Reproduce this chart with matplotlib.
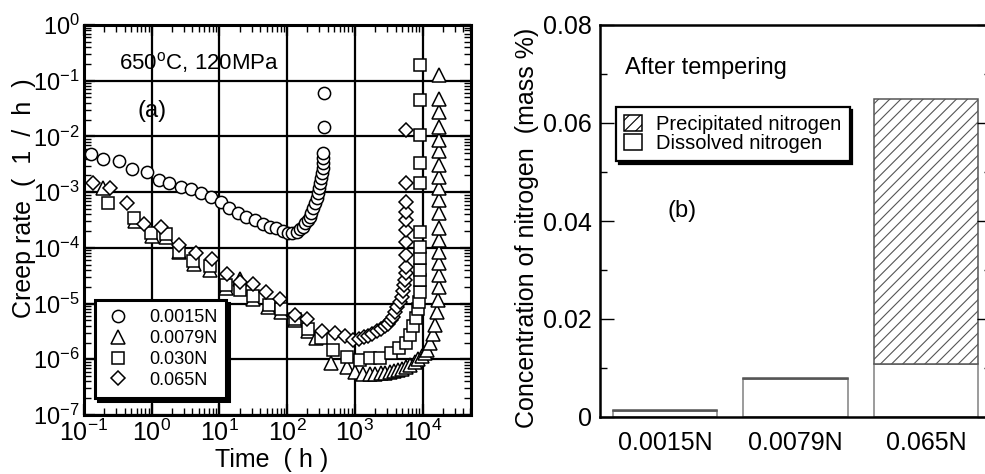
import numpy as np
import matplotlib
matplotlib.use("Agg")
import matplotlib.pyplot as plt
from matplotlib.ticker import LogLocator, MultipleLocator, NullFormatter

plt.rcParams['font.family'] = ['Liberation Sans', 'DejaVu Sans']
plt.rcParams['mathtext.fontset'] = 'custom'
plt.rcParams['mathtext.rm'] = 'Liberation Sans'
plt.rcParams['mathtext.it'] = 'Liberation Sans:italic'
plt.rcParams['mathtext.bf'] = 'Liberation Sans:bold'
plt.rcParams['hatch.linewidth'] = 0.8

# ---- (a) creep rate curves as log10 values ----
# 0.0015N (circles)
log_t_0015 = [-0.896, -0.714, -0.488, -0.29, -0.074, 0.114, 0.26, 0.435, 0.58, 0.73,
              0.879, 1.027, 1.149, 1.272, 1.397, 1.519, 1.642, 1.741, 1.84, 1.938, 2.01,
              2.07, 2.14, 2.19, 2.23, 2.27, 2.31, 2.34, 2.36, 2.385, 2.41, 2.435, 2.46,
              2.475, 2.49, 2.505, 2.52, 2.525, 2.53, 2.53, 2.53, 2.54, 2.54]
log_r_0015 = [-2.32, -2.41, -2.45, -2.585, -2.63, -2.78, -2.83, -2.90, -2.95, -3.02,
              -3.08, -3.17, -3.29, -3.38, -3.44, -3.50, -3.57, -3.62, -3.65, -3.69, -3.74,
              -3.73, -3.71, -3.67, -3.62, -3.56, -3.50, -3.44, -3.38, -3.29, -3.2, -3.11, -3.02,
              -2.93, -2.84, -2.75, -2.66, -2.57, -2.48, -2.39, -2.30, -1.83, -1.215]

# 0.0079N (triangles)
log_t_0079 = [-0.72, -0.25, 0.0, 0.21, 0.40, 0.62, 0.86, 1.10, 1.30, 1.50, 1.72, 1.91,
              2.12, 2.31, 2.43, 2.65, 2.88, 3.00, 3.12, 3.22, 3.30, 3.38, 3.45, 3.52,
              3.58, 3.64, 3.70, 3.76, 3.82, 3.89, 3.94, 3.985, 4.03, 4.06, 4.11, 4.16,
              4.18, 4.21, 4.23, 4.24, 4.245, 4.245, 4.245, 4.245, 4.245, 4.245, 4.245,
              4.245, 4.245, 4.245, 4.245, 4.245, 4.245, 4.245, 4.245, 4.245]
log_r_0079 = [-2.93, -3.52, -3.78, -3.80, -4.08, -4.29, -4.40, -4.72, -4.56, -4.92, -5.07, -5.15,
              -5.30, -5.50, -5.62, -6.07, -6.13, -6.22, -6.27, -6.27, -6.26, -6.25, -6.24, -6.23,
              -6.21, -6.19, -6.17, -6.13, -6.10, -6.05, -6.00, -5.94, -5.88, -5.83, -5.71, -5.54,
              -5.39, -5.15, -4.94, -4.70, -4.49, -4.28, -4.07, -3.86, -3.65, -3.38, -3.14,
              -2.93, -2.72, -2.51, -2.27, -2.06, -1.83, -1.56, -1.33, -0.90]

# 0.030N (squares)
log_t_030 = [-0.65, -0.256, -0.01, 0.21, 0.40, 0.61, 0.86, 1.10, 1.31, 1.49, 1.73, 1.91,
             2.11, 2.31, 2.50, 2.68, 2.88, 3.07, 3.22, 3.37, 3.54, 3.65, 3.76, 3.81, 3.86,
             3.90, 3.93, 3.95, 3.96, 3.97, 3.97, 3.97, 3.97, 3.97, 3.97, 3.97, 3.97, 3.97, 3.97]
log_r_030 = [-3.19, -3.47, -3.74, -3.75, -4.08, -4.24, -4.33, -4.67, -4.75, -4.87, -5.02, -5.10,
             -5.27, -5.45, -5.62, -5.83, -5.95, -6.01, -5.98, -5.98, -5.89, -5.80, -5.71, -5.56, -5.40,
             -5.25, -5.10, -4.97, -4.79, -4.58, -4.40, -4.19, -3.98, -3.71, -2.84, -2.48, -1.97, -1.35, -0.72]

# 0.065N (diamonds)
log_t_065 = [-0.87, -0.615, -0.37, -0.108, 0.14, 0.40, 0.65, 0.89, 1.11, 1.30, 1.49, 1.69,
             1.89, 2.11, 2.29, 2.52, 2.70, 2.85, 2.98, 3.06, 3.13, 3.20, 3.26, 3.33, 3.39,
             3.44, 3.49, 3.53, 3.57, 3.60, 3.63, 3.66, 3.69, 3.71, 3.73, 3.74, 3.75, 3.76,
             3.76, 3.76, 3.76, 3.76, 3.76, 3.76, 3.76, 3.76]
log_r_065 = [-2.84, -2.93, -3.19, -3.57, -3.62, -3.95, -4.10, -4.20, -4.47, -4.62, -4.65, -4.79,
             -4.92, -5.21, -5.27, -5.49, -5.52, -5.58, -5.66, -5.63, -5.60, -5.58, -5.55, -5.50, -5.46,
             -5.41, -5.36, -5.30, -5.24, -5.16, -5.07, -4.98, -4.88, -4.78, -4.67, -4.58, -4.46, -4.34,
             -4.13, -3.89, -3.68, -3.50, -3.35, -3.17, -2.84, -1.885]

# ---- (b) nitrogen after tempering (mass %) ----
steels = ['0.0015N', '0.0079N', '0.065N']
dissolved_n = [0.0012, 0.0077, 0.0108]
precipitated_n = [0.0002, 0.0003, 0.0541]

fig = plt.figure(figsize=(9.85, 4.74), dpi=100)

# ---------------- panel (a) ----------------
ax1 = fig.add_axes([84/985, 59/474, 387/985, 390/474])
ax1.set_xscale('log')
ax1.set_yscale('log')
ax1.set_axisbelow(True)
ax1.grid(True, which='major', color='black', lw=1.6)

series = [
    (log_t_0079, log_r_0079, '^', 10, '0.0079N'),
    (log_t_030, log_r_030, 's', 8.5, '0.030N'),
    (log_t_065, log_r_065, 'D', 7.5, '0.065N'),
    (log_t_0015, log_r_0015, 'o', 8.8, '0.0015N'),
]
handles = {}
for lt, lr, mk, ms, lab in series:
    h, = ax1.plot(10 ** np.array(lt), 10 ** np.array(lr), ls='none', marker=mk, ms=ms,
                  mfc='white', mec='black', mew=1.1, label=lab)
    handles[lab] = h

ax1.set_xlim(0.1, 5.2e4)
ax1.set_ylim(1e-7, 1)
ax1.xaxis.set_major_locator(LogLocator(base=10, numticks=10))
ax1.yaxis.set_major_locator(LogLocator(base=10, numticks=10))
ax1.xaxis.set_minor_locator(LogLocator(base=10, subs=np.arange(2, 10), numticks=20))
ax1.yaxis.set_minor_locator(LogLocator(base=10, subs=np.arange(2, 10), numticks=20))
ax1.xaxis.set_minor_formatter(NullFormatter())
ax1.yaxis.set_minor_formatter(NullFormatter())
ax1.tick_params(which='both', direction='in', top=True, right=True)
ax1.tick_params(axis='x', labelsize=18)
ax1.tick_params(axis='y', labelsize=17)
ax1.tick_params(which='major', length=8, width=1.6, pad=3)
ax1.tick_params(which='minor', length=5, width=1)
for s in ax1.spines.values():
    s.set_linewidth(2.2)

ax1.set_xlabel('Time  ( h )', fontsize=18)
ax1.xaxis.set_label_coords(0.486, -0.085)
ax1.set_ylabel('Creep rate  (  1  /  h  )', fontsize=18)
ax1.yaxis.set_label_coords(-0.125, 0.556)

ax1.text(0.09, 0.905, '650$^{\\mathrm{o}}$C, 120MPa', transform=ax1.transAxes,
         fontsize=16, va='center', ha='left')
ax1.text(0.175, 0.78, '(a)', transform=ax1.transAxes, fontsize=17, va='center', ha='center')

order = ['0.0015N', '0.0079N', '0.030N', '0.065N']
leg1 = ax1.legend([handles[k] for k in order], order, loc='lower left',
                  bbox_to_anchor=(0.028, 0.044), borderaxespad=0, fontsize=13,
                  frameon=True, fancybox=False, edgecolor='black', framealpha=1,
                  handlelength=1.6, handletextpad=0.9, labelspacing=0.22, borderpad=0.5,
                  shadow={'color': 'black', 'alpha': 1})
leg1.get_frame().set_linewidth(2.2)

# ---------------- panel (b) ----------------
ax2 = fig.add_axes([600/985, 57/474, 391/985, 392/474])
x = np.arange(len(steels))
b1 = ax2.bar(x, dissolved_n, width=0.8, color='white', edgecolor='#808080', lw=1.1,
             label='Dissolved nitrogen')
b2 = ax2.bar(x, precipitated_n, width=0.8, bottom=dissolved_n, color='white',
             edgecolor='#555555', hatch='///', lw=1.1, label='Precipitated nitrogen')
ax2.set_xlim(-0.5, 2.5)
ax2.set_ylim(0, 0.08)
ax2.set_xticks(x)
ax2.set_xticklabels(steels)
ax2.yaxis.set_major_locator(MultipleLocator(0.02))
ax2.yaxis.set_minor_locator(MultipleLocator(0.01))
ax2.yaxis.set_major_formatter(plt.FuncFormatter(lambda v, p: '0' if abs(v) < 1e-9 else f'{v:.2f}'))
ax2.tick_params(axis='y', which='both', direction='in', left=True, right=True, labelsize=18, pad=6)
ax2.tick_params(axis='y', which='major', length=10, width=1)
ax2.tick_params(axis='y', which='minor', length=5, width=1)
ax2.tick_params(axis='x', length=0, labelsize=18, pad=10)
for s in ax2.spines.values():
    s.set_linewidth(1.8)

ax2.set_ylabel('Concentration of nitrogen  (mass %)', fontsize=18)
ax2.yaxis.set_label_coords(-0.155, 0.482)

ax2.text(0.065, 0.89, 'After tempering', transform=ax2.transAxes, fontsize=17,
         va='center', ha='left')
ax2.text(0.21, 0.525, '(b)', transform=ax2.transAxes, fontsize=17, va='center', ha='center')

leg2 = ax2.legend([b2, b1], ['Precipitated nitrogen', 'Dissolved nitrogen'], loc='upper left',
                  bbox_to_anchor=(0.041, 0.791), borderaxespad=0, fontsize=14.5,
                  frameon=True, fancybox=False, edgecolor='black', framealpha=1,
                  handlelength=0.9, handleheight=0.85, handletextpad=0.7, labelspacing=0.02,
                  borderpad=0.4, shadow={'color': 'black', 'alpha': 1})
leg2.get_frame().set_linewidth(1.6)
for p in leg2.get_patches():
    p.set_edgecolor('black')

fig.savefig('out.png', dpi=100)
